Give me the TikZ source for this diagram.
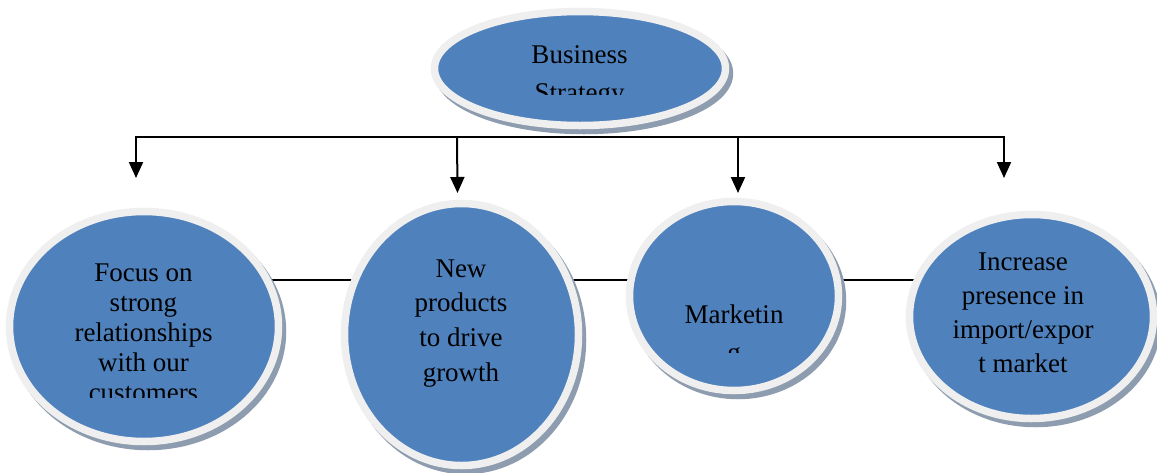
\documentclass[tikz,border=0pt]{standalone}
\usepackage{fontspec}
\setmainfont{Liberation Serif}
\usetikzlibrary{shapes.geometric,shadows,arrows.meta}
\definecolor{bluefill}{HTML}{4F81BD}
\definecolor{ringc}{HTML}{EFEFEF}
\definecolor{shadowc}{HTML}{8E9CAF}
\begin{document}
\begin{tikzpicture}[x=1pt,y=-1pt,
  bub/.style={ellipse, fill=bluefill, draw=ringc, line width=7.5pt, inner sep=0pt,
    drop shadow={shadow xshift=4pt, shadow yshift=-5pt, fill=shadowc, draw=shadowc, opacity=1}},
  txt/.style={anchor=base, inner sep=0pt, text=black},
  conn/.style={line width=2pt, black},
  tip/.style={-{Triangle[width=14pt,length=16pt]}}]
\useasboundingbox[fill=white] (0,0) rectangle (1157,472);

% line behind the lower ellipses
\coordinate (m1) at (250,280);
\coordinate (m2) at (940,280);
\draw[conn] (m1) -- (m2);

% ellipses
\node[bub, minimum width=291, minimum height=114] (bs) at (580,68.5) {};
\node[bub, minimum width=269, minimum height=230] (fo) at (144,326.5) {};
\node[bub, minimum width=234, minimum height=262] (np) at (461.5,334.5) {};
\node[bub, minimum width=209, minimum height=189] (mk) at (734,296) {};
\node[bub, minimum width=244, minimum height=204] (ip) at (1031.5,316.5) {};

% texts (clipped as in the reference)
\begin{scope}
\clip (400,30) rectangle (760,94);
\node[txt] (bst) at (579.5,63) {\parbox[t]{250pt}{\centering\fontsize{27}{38}\selectfont Business\\Strategy}};
\end{scope}
\begin{scope}
\clip (0,240) rectangle (290,397);
\node[txt] (fot) at (143.5,281) {\parbox[t]{250pt}{\centering\fontsize{27}{30}\selectfont Focus on\\strong\\relationships\\with our\\customers}};
\end{scope}
\node[txt] (npt) at (461,277) {\parbox[t]{200pt}{\centering\fontsize{27}{34.7}\selectfont New\\products\\to drive\\growth}};
\begin{scope}
\clip (620,280) rectangle (850,352);
\node[txt] (mkt) at (734,323) {\parbox[t]{200pt}{\centering\fontsize{27}{38}\selectfont Marketin\\g}};
\end{scope}
\node[txt] (ipt) at (1023,270) {\parbox[t]{220pt}{\centering\fontsize{27}{34.3}\selectfont Increase\\presence in\\import/expor\\t market}};

% branching connector from the top
\coordinate (a1) at (136,136.5);
\coordinate (a1t) at (136,178);
\coordinate (a2) at (457,136.5);
\coordinate (a2t) at (457.5,193);
\coordinate (a3) at (738,136.5);
\coordinate (a3t) at (738,193);
\coordinate (a4) at (1004,136.5);
\coordinate (a4t) at (1004,178);
\draw[conn, {Triangle[width=14pt,length=16pt]}-{Triangle[width=14pt,length=16pt]}] (a1t) -- (a1) -- (a4) -- (a4t);
\draw[conn, tip] (a2) -- (a2t);
\draw[conn, tip] (a3) -- (a3t);
\end{tikzpicture}
\end{document}
